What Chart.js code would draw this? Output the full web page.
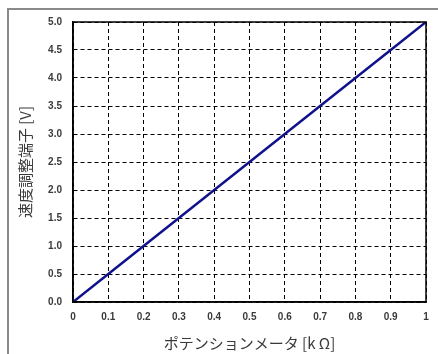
<!DOCTYPE html>
<html>
<head>
<meta charset="utf-8">
<script src="https://cdn.jsdelivr.net/npm/chart.js@4/dist/chart.umd.min.js"></script>
<style>
  html, body { margin: 0; padding: 0; background: #fff; }
  #wrap { width: 438px; height: 354px; position: relative; }
</style>
</head>
<body>
<div id="wrap"><canvas id="c"></canvas></div>
<script>
// ポテンションメータ [kΩ] vs 速度調整端子 [V]
const potValues = [0, 0.1, 0.2, 0.3, 0.4, 0.5, 0.6, 0.7, 0.8, 0.9, 1];
const voltValues = [0, 0.5, 1.0, 1.5, 2.0, 2.5, 3.0, 3.5, 4.0, 4.5, 5.0];
const xTicks = ["0", "0.1", "0.2", "0.3", "0.4", "0.5", "0.6", "0.7", "0.8", "0.9", "1"];
const yTicks = ["0.0", "0.5", "1.0", "1.5", "2.0", "2.5", "3.0", "3.5", "4.0", "4.5", "5.0"];

const LINE_COLOR = "#10128c";
const TEXT_COLOR = "#3a3a3a";

// outer gray frame (top and left edge of the picture) + solid box round plot area
const framePlugin = {
  id: "frame",
  beforeDraw(chart) {
    const ctx = chart.ctx;
    ctx.save();
    ctx.strokeStyle = "#8a8a8a";
    ctx.lineWidth = 2;
    ctx.beginPath();
    ctx.moveTo(438, 9);
    ctx.lineTo(8, 9);
    ctx.lineTo(8, 354);
    ctx.stroke();
    ctx.restore();
  },
  afterDatasetsDraw(chart) {
    const { ctx, chartArea: a } = chart;
    ctx.save();
    ctx.strokeStyle = "#000";
    ctx.lineWidth = 1.5;
    ctx.strokeRect(a.left, a.top, a.right - a.left, a.bottom - a.top);
    ctx.restore();
  },
};

new Chart(document.getElementById("c").getContext("2d"), {
  type: "line",
  data: {
    datasets: [{
      data: potValues.map((x, i) => ({ x, y: voltValues[i] })),
      borderColor: LINE_COLOR,
      borderWidth: 2.5,
      pointRadius: 0,
      tension: 0,
    }],
  },
  options: {
    responsive: true,
    maintainAspectRatio: false,
    animation: false,
    layout: { padding: { left: 10, right: 12, top: 22, bottom: 0 } },
    plugins: { legend: { display: false }, tooltip: { enabled: false } },
    scales: {
      x: {
        type: "linear",
        min: 0,
        max: 1,
        afterFit(scale) { scale.height = 52; },
        afterBuildTicks(scale) { scale.ticks = potValues.map(v => ({ value: v })); },
        ticks: {
          padding: 9,
          maxRotation: 0,
          color: TEXT_COLOR,
          font: { family: "Liberation Sans", size: 10, weight: "bold" },
          callback: (v, i) => xTicks[i],
        },
        grid: { color: "#000", lineWidth: 1, drawTicks: false },
        border: { color: "#000", width: 1.5, dash: [4, 3] },
        title: {
          display: true,
          text: "ポテンションメータ [k Ω]",
          color: TEXT_COLOR,
          font: { family: "Noto Sans CJK JP", size: 15 },
          padding: { top: 0, bottom: 2 },
        },
      },
      y: {
        type: "linear",
        min: 0,
        max: 5,
        afterFit(scale) { scale.width = 63; },
        afterBuildTicks(scale) { scale.ticks = voltValues.map(v => ({ value: v })); },
        ticks: {
          padding: 11,
          color: TEXT_COLOR,
          font: { family: "Liberation Sans", size: 10, weight: "bold" },
          callback: (v, i) => yTicks[i],
        },
        grid: { color: "#000", lineWidth: 1, drawTicks: false },
        border: { color: "#000", width: 1.5, dash: [4, 3] },
        title: {
          display: true,
          text: "速度調整端子 [V]",
          color: TEXT_COLOR,
          font: { family: "Noto Sans CJK JP", size: 15 },
          padding: { top: 6, bottom: 0 },
        },
      },
    },
  },
  plugins: [framePlugin],
});
</script>
</body>
</html>
